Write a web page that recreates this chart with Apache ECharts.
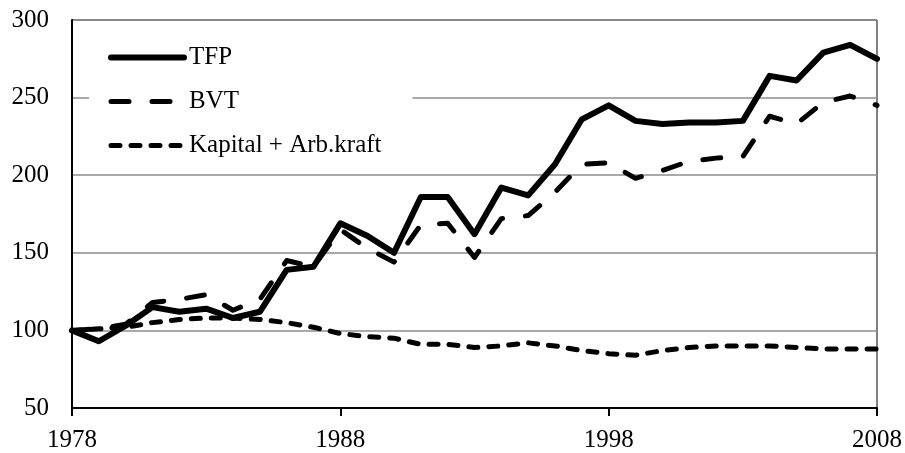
<!DOCTYPE html>
<html>
<head>
<meta charset="utf-8">
<script src="https://cdn.jsdelivr.net/npm/echarts@6/dist/echarts.min.js"></script>
<style>
  html, body { margin: 0; padding: 0; background: #fff; }
  #chart { width: 905px; height: 453px; }
</style>
</head>
<body>
<div id="chart"></div>
<script>
const years = []
for (let y = 1978; y <= 2008; y++) years.push(String(y))

const tfp = [100, 93, 103, 115, 112, 114, 108, 112, 139, 141, 169, 161, 150, 186, 186, 162, 192, 187, 207, 236, 245, 235, 233, 234, 234, 235, 264, 261, 279, 284, 275]
const bvt = [100, 101, 104, 118, 120, 123, 113, 120, 145, 141, 165, 153, 144, 168, 169, 147, 172, 174, 189, 207, 208, 198, 203, 209, 211, 212, 238, 233, 247, 251, 245]
const kapital = [100, 101, 102, 105, 107, 108, 108, 107, 105, 102, 98, 96, 95, 91, 91, 89, 90, 92, 90, 87, 85, 84, 87, 89, 90, 90, 90, 89, 88, 88, 88]

const yTicks = { min: 50, max: 300, step: 50 }

const chart = echarts.init(document.getElementById('chart'))
const font = 'Liberation Serif'
const fs = 25

const option = {
  animation: false,
  backgroundColor: '#fff',
  textStyle: { fontFamily: font },
  grid: {
    left: 72,
    right: 28,
    top: 20,
    bottom: 41,
    show: true,
    borderColor: '#000',
    borderWidth: 1
  },
  legend: {
    orient: 'vertical',
    left: 89,
    top: 31,
    padding: [14, 31, 14, 19],
    backgroundColor: '#fff',
    itemWidth: 73,
    itemHeight: 14,
    itemGap: 19,
    itemStyle: { opacity: 0 },
    textStyle: { fontFamily: font, fontSize: fs, color: '#000' },
    data: [
      { name: 'TFP', lineStyle: { width: 6 } },
      { name: 'BVT', lineStyle: { width: 5 } },
      { name: 'Kapital + Arb.kraft', lineStyle: { width: 5 } }
    ]
  },
  xAxis: {
    type: 'category',
    data: years,
    boundaryGap: false,
    axisLine: { lineStyle: { color: '#000', width: 2 } },
    axisTick: { interval: 9, length: 8, lineStyle: { color: '#000', width: 2 } },
    axisLabel: { interval: 9, margin: 20, fontFamily: font, fontSize: fs, color: '#000' },
    splitLine: { show: false }
  },
  yAxis: {
    type: 'value',
    min: yTicks.min,
    max: yTicks.max,
    interval: yTicks.step,
    axisLine: { show: true, lineStyle: { color: '#000', width: 2 } },
    axisTick: { show: false },
    axisLabel: { margin: 23, fontFamily: font, fontSize: fs, color: '#000' },
    splitLine: { lineStyle: { color: '#8c8c8c', width: 1.5 } }
  },
  series: [
    {
      name: 'TFP',
      type: 'line',
      data: tfp,
      symbol: 'none',
      lineStyle: { color: '#000', width: 6, join: 'round', cap: 'round' },
      itemStyle: { color: '#000' }
    },
    {
      name: 'BVT',
      type: 'line',
      data: bvt,
      symbol: 'none',
      lineStyle: { color: '#000', width: 5, type: [18, 23], cap: 'round', join: 'round' },
      itemStyle: { color: '#000' }
    },
    {
      name: 'Kapital + Arb.kraft',
      type: 'line',
      data: kapital,
      symbol: 'none',
      lineStyle: { color: '#000', width: 5, type: [9, 11], cap: 'round', join: 'round' },
      itemStyle: { color: '#000' }
    }
  ]
}

chart.setOption(option)
window.addEventListener('resize', () => chart.resize())
</script>
</body>
</html>
